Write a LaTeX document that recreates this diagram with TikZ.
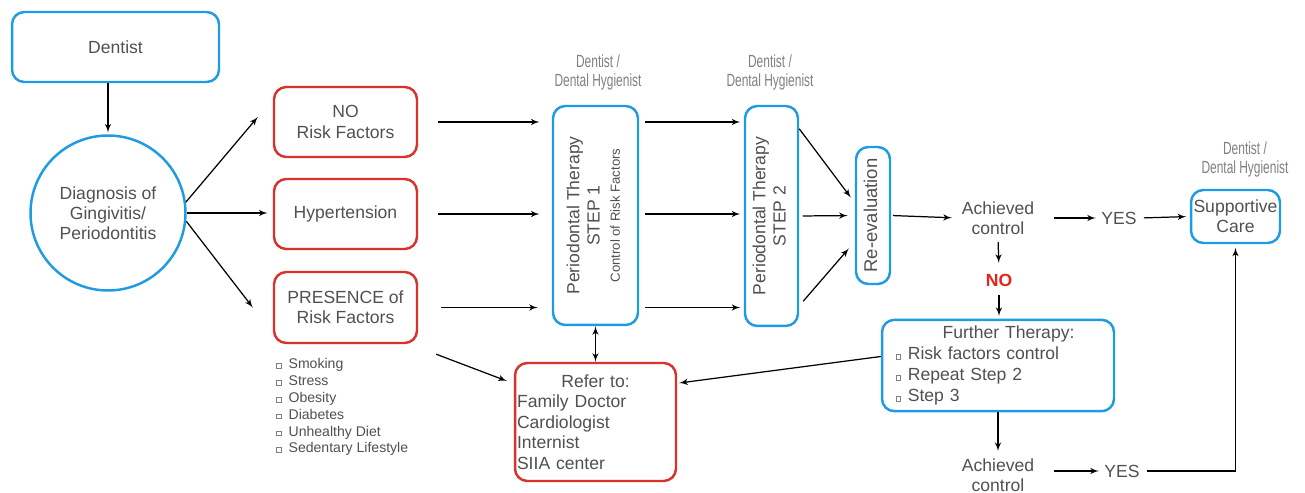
\documentclass[tikz,border=0pt]{standalone}
\usepackage{fontspec}
\setmainfont{Liberation Sans}
\newfontfamily\thinfont[FakeStretch=0.68]{Liberation Sans}
\usetikzlibrary{arrows,calc}
\definecolor{boxblue}{HTML}{1E9BE3}
\definecolor{boxred}{HTML}{D8322B}
\definecolor{txtgray}{HTML}{505050}
\definecolor{lblgray}{HTML}{808080}
\definecolor{nored}{HTML}{E3241B}
\newcommand\sqb{\raisebox{0.1ex}{\color{lblgray}\setlength\fboxsep{0pt}\setlength\fboxrule{0.3pt}\fbox{\rule{0pt}{2.4pt}\hspace{2.4pt}}}\hspace{4pt}}
\newcommand\vlines[1]{\rotatebox{90}{\begin{tabular}{@{}c@{}}#1\end{tabular}}}
\tikzset{
  blubox/.style={draw=boxblue, line width=1.4pt, rounded corners=7pt, align=center},
  redbox/.style={draw=boxred, line width=1.4pt, rounded corners=7pt, align=center},
  plain/.style={align=center, inner sep=2pt},
  whoby/.style={align=center, text=lblgray, font=\thinfont\fontsize{10}{10.8}\selectfont},
  conn/.style={-latex', line width=0.7pt, black},
}
\begin{document}
\begin{tikzpicture}[x=0.02cm, y=-0.02cm,
  every node/.style={text=txtgray, font=\fontsize{10}{11.5}\selectfont}]
\useasboundingbox (0,0) rectangle (1305,493);

\node[blubox, minimum width=4.14cm, minimum height=1.4cm] (dentist) at (115.5,47) {Dentist};
\node[draw=boxblue, line width=1.4pt, circle, minimum size=3.1cm, inner sep=0pt, align=center] (diag) at (108,213)
  {Diagnosis of\\Gingivitis/\\Periodontitis};

\node[redbox, minimum width=2.86cm, minimum height=1.4cm] (norisk) at (345.5,122) {NO\\Risk Factors};
\node[redbox, minimum width=2.86cm, minimum height=1.4cm] (hyper) at (345.5,214) {Hypertension};
\node[redbox, minimum width=2.86cm, minimum height=1.42cm] (presence) at (345.5,307.5) {PRESENCE of\\Risk Factors};
\node[anchor=north west, align=left, inner sep=0pt, font=\fontsize{8}{9.6}\selectfont] (risks) at (276,358)
  {\sqb Smoking\\\sqb Stress\\\sqb Obesity\\\sqb Diabetes\\\sqb Unhealthy Diet\\\sqb Sedentary Lifestyle};

\node[blubox, minimum width=1.7cm, minimum height=4.38cm, inner sep=0pt] (step1) at (595.5,215.5)
  {\vlines{Periodontal Therapy\\STEP 1\\\fontsize{7.5}{9}\selectfont Control of Risk Factors}};
\node[blubox, minimum width=1.06cm, minimum height=4.4cm, inner sep=0pt] (step2) at (771.5,216)
  {\vlines{Periodontal Therapy\\STEP 2}};
\node[blubox, minimum width=0.68cm, minimum height=2.74cm, inner sep=0pt, font=\fontsize{10.5}{12}\selectfont] (reeval) at (873,215.5)
  {\vlines{Re-evaluation}};
\node[whoby] (who1) at (598,72) {Dentist /\\Dental Hygienist};
\node[whoby] (who2) at (770,72) {Dentist /\\Dental Hygienist};

\node[redbox, minimum width=3.22cm, minimum height=2.36cm, text width=3.14cm, inner sep=0pt, align=left,
  font=\fontsize{10}{11.6}\selectfont] (refer) at (595.5,422)
  {\makebox[\linewidth]{Refer to:}\\Family Doctor\\Cardiologist\\Internist\\SIIA center};

\node[plain] (ach1) at (998,218) {Achieved\\control};
\node[plain] (yes1) at (1119,218) {YES};
\node[blubox, minimum width=1.78cm, minimum height=1.06cm, inner sep=1pt] (supp) at (1235.5,216.5) {Supportive\\Care};
\node[whoby] (who3) at (1245,159) {Dentist /\\Dental Hygienist};
\node[plain, text=nored, font=\bfseries\fontsize{10}{12}\selectfont] (no) at (999,280) {NO};
\node[blubox, minimum width=4.64cm, minimum height=1.82cm, text width=4.1cm, align=left,
  font=\fontsize{10}{12}\selectfont] (further) at (998,365.5)
  {\makebox[\linewidth]{\hspace{12pt}Further Therapy:}\\\sqb Risk factors control\\\sqb Repeat Step 2\\\sqb Step 3};
\node[plain] (ach2) at (998,475) {Achieved\\control};
\node[plain] (yes2) at (1122,471) {YES};

\draw[conn, shorten >=1pt] (diag.north |- dentist.south) -- (diag.north);
\draw[conn] (diag.8) -- ($(norisk.west)+(-15,-5)$);
\draw[conn, shorten >=3pt] (diag.east) -- (diag.east -| hyper.west);
\draw[conn] (diag.-6) -- ($(presence.west)+(-20,0)$);

\draw[conn, shorten <=11pt, shorten >=7pt] (norisk.east) -- (norisk.east -| step1.west);
\draw[conn, shorten <=11pt, shorten >=7pt] (hyper.east) -- (hyper.east -| step1.west);
\draw[conn, shorten <=13pt, shorten >=8pt] (presence.east) -- (presence.east -| step1.west);
\draw[conn, shorten <=3.5pt, shorten >=2pt] (step1.east |- norisk.east) -- (step2.west |- norisk.east);
\draw[conn, shorten <=3.5pt, shorten >=2pt] (step1.east |- hyper.east) -- (step2.west |- hyper.east);
\draw[conn, shorten <=3.5pt, shorten >=2pt] (step1.east |- presence.east) -- (step2.west |- presence.east);

\draw[conn] ($(step2.north east)+(0,24)$) -- ($(reeval.west)+(-4,-18)$);
\draw[conn, shorten <=2pt, shorten >=4pt] (step2.east) -- (reeval.west);
\draw[conn] ($(step2.south east)+(4,-26)$) -- ($(reeval.west)+(-6,33)$);

\draw[conn, shorten <=1pt, shorten >=3.5pt] (reeval.east) -- (ach1.west);
\draw[conn, shorten <=9pt, shorten >=1pt] (ach1.east) -- (yes1.west);
\draw[conn, shorten <=2pt, shorten >=2pt] (yes1.east) -- (supp.west);
\draw[conn, shorten <=2pt, shorten >=4pt] (ach1.south) -- (no.north);
\draw[conn, shorten <=3pt, shorten >=1.5pt] (no.south) -- (no.south |- further.north);
\draw[conn] ($(further.west)+(0,-9)$) -- ($(refer.east)+(2,-39)$);
\draw[conn, shorten >=2pt] (further.south) -- (ach2.north);
\draw[conn, shorten <=9pt, shorten >=1pt] (yes2.west -| ach2.east) -- (yes2.west);
\draw[conn, shorten <=2pt, shorten >=2pt] (yes2.east) -| (supp.south);

\draw[latex'-latex', line width=0.7pt] (step1.south) -- (refer.north);
\draw[conn] ($(presence.south east)+(18,10)$) -- ($(refer.west)+(-7,-41)$);
\end{tikzpicture}
\end{document}
